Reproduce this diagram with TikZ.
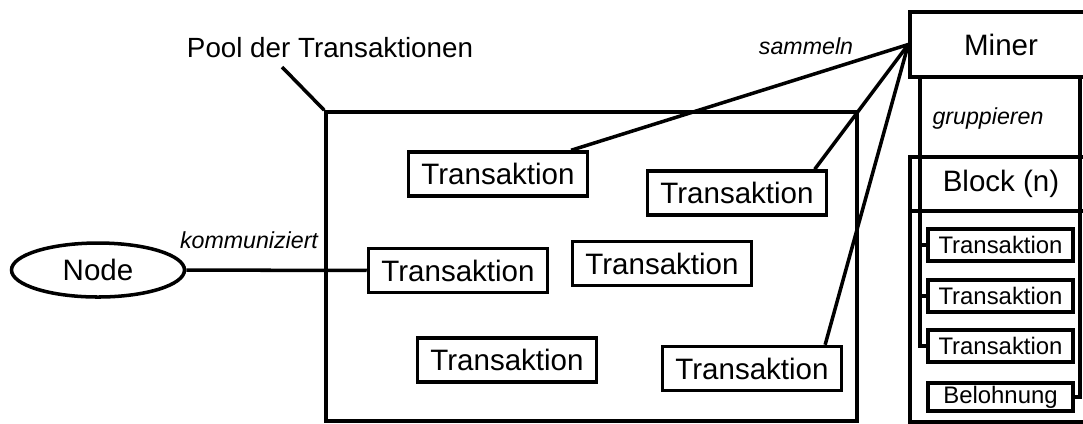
\documentclass[tikz,border=0pt]{standalone}
\usepackage{fontspec}
\setmainfont{Liberation Sans}
\usetikzlibrary{shapes}
\usetikzlibrary{positioning}
\tikzset{
    conn/.style = {line width=1pt,draw=black},
    txbox/.style = {rectangle, line width=1pt, draw=black, inner sep=0pt, minimum width=1.79cm, minimum height=0.44cm, font=\fontsize{8.4}{10}\selectfont},
    blkbox/.style = {rectangle, line width=1pt, draw=black, inner sep=0pt, minimum width=1.45cm, minimum height=0.32cm, font=\fontsize{6.8}{8}\selectfont},
    bigbox/.style = {rectangle, line width=1pt, draw=black, inner sep=0pt, minimum width=1.82cm, font=\fontsize{8.4}{10}\selectfont},
    mynode/.style = {ellipse, line width=1pt, draw=black, inner sep=0pt, minimum width=1.73cm, minimum height=0.54cm, font=\fontsize{8.4}{10}\selectfont},
    verb/.style = {font=\fontsize{6.6}{8}\itshape},
    title/.style = {font=\fontsize{7.9}{9}\selectfont}
}

\begin{document}
\begin{tikzpicture}
\useasboundingbox (0,0) rectangle (10.83,4.23);
\node[title] at (3.30, 3.75) (pt) {Pool der Transaktionen};
\coordinate (lead) at (2.82, 3.56);
\node[draw, line width=1pt, minimum width=5.31cm, minimum height=3.09cm] at (5.915, 1.565) (pool) {};
\draw[conn] (lead) -- (pool.north west);
%
\node[txbox] at (4.98, 2.49) (t1) {Transaktion};
\node[txbox] at (7.37, 2.30) (t2) {Transaktion};
\node[txbox] at (4.58, 1.525) (t3) {Transaktion};
\node[txbox] at (6.62, 1.595) (t4) {Transaktion};
\node[txbox] at (5.07, 0.63) (t5) {Transaktion};
\node[txbox] at (7.52, 0.545) (t6) {Transaktion};
%
\node[mynode] at (0.98, 1.53) (node) {Node};
\node[verb] at (2.49, 1.83) (komm) {kommuniziert};
\draw[conn] (node) -- (t3);
%
\node[bigbox, minimum height=0.65cm] at (10.01, 3.785) (miner) {Miner};
\node[verb] at (8.06, 3.77) (samm) {sammeln};
\draw[conn] (miner.west) -- (t1.18);
\draw[conn] (miner.west) -- (t2.17);
\draw[conn] (miner.west) -- (t6.18);
%
\node[verb] at (9.88, 3.05) (grup) {gruppieren};
\node[bigbox, minimum height=0.54cm] at (10.01, 2.39) (blockhead) {Block (n)};
\node[bigbox, minimum height=2.11cm] at (10.01, 1.065) (blockbody) {};
\node[blkbox] at (10.005, 1.78) (b1) {Transaktion};
\node[blkbox] at (10.005, 1.27) (b2) {Transaktion};
\node[blkbox] at (10.005, 0.77) (b3) {Transaktion};
\node[blkbox, minimum height=0.28cm] at (10.005, 0.26) (bel) {Belohnung};
%
\coordinate (gl) at (9.20, 3.46);
\coordinate (gr) at (10.80, 3.46);
\draw[conn] (gl) |- (b3.west);
\draw[conn] (b1.west -| gl) -- (b1.west);
\draw[conn] (b2.west -| gl) -- (b2.west);
\draw[conn] (gr) |- (bel.east);

\end{tikzpicture}
\end{document}
